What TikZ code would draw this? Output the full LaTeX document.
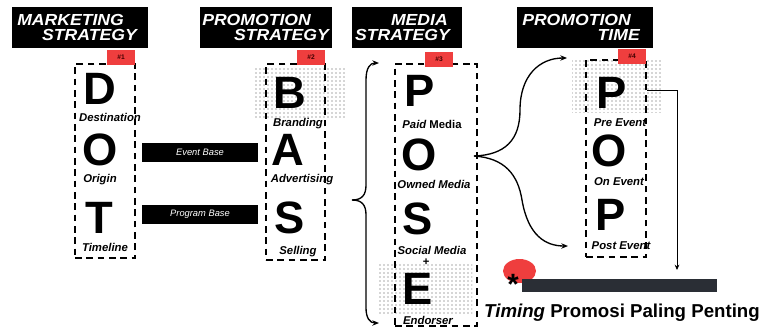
\documentclass[tikz,border=0pt]{standalone}
\usepackage{fontspec}
\setmainfont{Liberation Sans}
\newfontfamily\titlefont[FakeStretch=1.1]{Liberation Sans}
\usetikzlibrary{patterns,arrows.meta,shapes.geometric}
\definecolor{tagred}{HTML}{EF3E3E}
\definecolor{bardark}{HTML}{2A2E35}

\tikzset{
  titlebox/.style={fill=black,inner sep=0,minimum height=30.75pt},
  titletext/.style={text=white,inner sep=0,font=\titlefont\fontsize{12}{12}\selectfont\bfseries\itshape},
  tag/.style={fill=tagred,inner sep=0,minimum width=21pt,minimum height=11.25pt,
    font=\fontsize{5}{5}\selectfont\bfseries,text=black!75!red},
  dashbox/.style={draw,line width=1.4pt,dash pattern=on 5pt off 3.5pt,inner sep=0},
  halftone/.style={pattern=dots,pattern color=black!70,inner sep=0},
  bigletter/.style={inner sep=0,font=\fontsize{34}{34}\selectfont\bfseries},
  lbl/.style={inner sep=0,font=\fontsize{8.5}{9}\selectfont\bfseries\itshape},
  basebar/.style={fill=black,text=white,inner sep=0,minimum width=87pt,minimum height=14.25pt,
    font=\fontsize{7}{7}\selectfont\itshape},
  curve/.style={line width=1pt,-{Stealth[length=5pt,width=4pt]}},
}

\begin{document}
\begin{tikzpicture}[x=0.75pt,y=-0.75pt]
\useasboundingbox (0,0) rectangle (766,329);

% titles
\node[titlebox,minimum width=102pt] (mkt)   at (80,27.5)  {};
\node[titlebox,minimum width=99pt]  (promo) at (266,27.5) {};
\node[titlebox,minimum width=82.5pt] (media) at (407,27.5) {};
\node[titlebox,minimum width=102pt] (ptime) at (585,27.5) {};
\begin{scope}[every node/.style={titletext}]
  \node[anchor=west] (mkt1)   at (17,20)  {MARKETING};
  \node[anchor=east] (mkt2)   at (137,35) {STRATEGY};
  \node[anchor=west] (promo1) at (202,20) {PROMOTION};
  \node[anchor=east] (promo2) at (329,35) {STRATEGY};
  \node[anchor=east] (media1) at (448,20) {MEDIA};
  \node[anchor=east] (media2) at (450,35) {STRATEGY};
  \node[anchor=west] (ptime1) at (522,20) {PROMOTION};
  \node[anchor=east] (ptime2) at (640,35) {TIME};
\end{scope}

% shaded areas
\node[halftone,minimum width=67.5pt,minimum height=38.25pt]  (shB) at (300,92.5)  {};
\node[halftone,minimum width=69.75pt,minimum height=39pt]    (shE) at (425.5,289) {};
\node[halftone,minimum width=68.25pt,minimum height=39pt]    (shP) at (617.5,86)  {};

% dashed columns
\node[dashbox,minimum width=45pt,minimum height=145.5pt]    (dot)  at (105,161)   {};
\node[dashbox,minimum width=44.25pt,minimum height=147pt]   (bas)  at (295.5,162) {};
\node[dashbox,minimum width=61.5pt,minimum height=196.5pt]  (pose) at (436,195)   {};
\node[dashbox,minimum width=45pt,minimum height=147.75pt]   (pop)  at (616,158.5) {};

\node[tag] (tag1) at (121,57.5) {\#1};
\node[tag] (tag2) at (311,57.5) {\#2};
\node[tag] (tag3) at (439,59)   {\#3};
\node[tag] (tag4) at (632,56)   {\#4};

% letters
\begin{scope}[every node/.style={bigletter}]
  \node (d)    at (100,89)  {D};
  \node (o)    at (100,150) {O};
  \node (t)    at (99,218)  {T};
  \node (b)    at (290,93)  {B};
  \node (a)    at (288,150) {A};
  \node (s)    at (290,218) {S};
  \node (p)    at (420,91)  {P};
  \node (o2)   at (419,155) {O};
  \node (s2)   at (418,219) {S};
  \node (e)    at (418,289) {E};
  \node (pre)  at (612,93)  {P};
  \node (on)   at (609,151) {O};
  \node (post) at (611,215) {P};
\end{scope}

\begin{scope}[every node/.style={lbl}]
  \node (ld)    at (110,117) {Destination};
  \node (lo)    at (100,180) {Origin};
  \node (lt)    at (105,247) {Timeline};
  \node (lb)    at (298,124) {Branding};
  \node (la)    at (302,180) {Advertising};
  \node (ls)    at (298,252) {Selling};
  \node (lp)    at (432,124) {Paid \upshape Media};
  \node (lo2)   at (434,184) {Owned Media};
  \node (ls2)   at (432,250) {Social Media};
  \node (plus)  at (426,262) {+};
  \node (le)    at (428,320) {Endorser};
  \node (lpre)  at (620,123) {Pre Event};
  \node (lon)   at (619,182) {On Event};
  \node (lpost) at (621,246) {Post Event};
\end{scope}

% DOT -> BAS
\node[basebar] (event)   at (200,152.5) {Event Base};
\node[basebar] (program) at (200,214.5) {Program Base};

% brace into POSE
\coordinate (brtip) at (352,200);
\coordinate (brtop) at (379,63);
\coordinate (brbot) at (379,323);
\draw[curve] (brtip) .. controls (362,200) and (366,195) .. (366,185)
  -- (366,80) .. controls (366,68) and (370,63) .. (brtop);
\draw[curve] (brtip) .. controls (362,200) and (366,205) .. (366,215)
  -- (366,308) .. controls (366,318) and (370,323) .. (brbot);

% POSE -> POP
\coordinate (fork)   at (474,156);
\coordinate (topre)  at (567,58);
\coordinate (topost) at (568,246);
\draw[curve] (fork) .. controls (505,155) and (520,140) .. (520,110)
  .. controls (520,75) and (540,58) .. (topre);
\draw[curve] (fork) .. controls (505,158) and (518,175) .. (522,200)
  .. controls (528,235) and (545,246) .. (topost);

% timing
\node[ellipse,fill=tagred,minimum width=24.75pt,minimum height=18pt,inner sep=0] (dotred) at (519.5,271) {};
\node[fill=bardark,minimum width=146.25pt,minimum height=9.75pt,inner sep=0] (bar) at (619.5,285.5) {};
\node[inner sep=0,font=\fontsize{22}{22}\selectfont\bfseries] (star) at (513,284) {*};
\coordinate (preout) at (647,90);
\coordinate (barin)  at (677,270);
\draw[line width=0.6pt,-{Stealth[length=4pt,width=3.5pt]}] (preout) -| (barin);

\node[inner sep=0,font=\fontsize{14}{14}\selectfont\bfseries] (timing) at (622,313)
  {\itshape Timing \upshape Promosi Paling Penting};

\end{tikzpicture}
\end{document}
